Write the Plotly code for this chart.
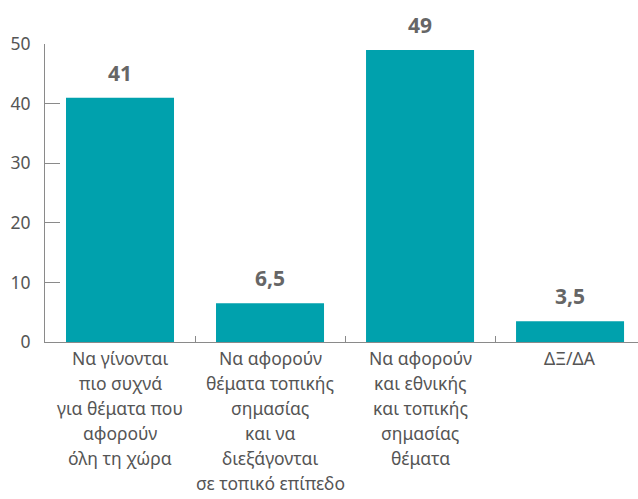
import plotly.graph_objects as go

# Survey answers and their shares (%)
categories = ["Να γίνονται πιο συχνά", "Να αφορούν θέματα τοπικής", "Να αφορούν και εθνικής", "ΔΞ/ΔΑ"]
label_lines = [
    ["Να γίνονται", "πιο συχνά", "για θέματα που", "αφορούν", "όλη τη χώρα"],
    ["Να αφορούν", "θέματα τοπικής", "σημασίας", "και να", "διεξάγονται", "σε τοπικό επίπεδο"],
    ["Να αφορούν", "και εθνικής", "και τοπικής", "σημασίας", "θέματα"],
    ["ΔΞ/ΔΑ"],
]
values = [41, 6.5, 49, 3.5]
y_ticks = [0, 10, 20, 30, 40, 50]

FONT = "'Noto Sans', Lato, sans-serif"
TEAL = "#00a1ad"
GREY = "#555555"

fig = go.Figure(
    go.Bar(
        x=categories,
        y=values,
        marker=dict(color=TEAL, line=dict(width=0)),
        hoverinfo="skip",
    )
)

# value labels above the bars, decimal comma
for cat, v in zip(categories, values):
    txt = f"{v:g}".replace(".", ",")
    fig.add_annotation(
        x=cat, y=v, xref="x", yref="y",
        text=f"<b>{txt}</b>", showarrow=False,
        yanchor="bottom", yshift=9,
        font=dict(family=FONT, size=21, color="#666666"),
    )

# multi-line category labels below the axis
for cat, lines in zip(categories, label_lines):
    for i, line in enumerate(lines):
        fig.add_annotation(
            x=cat, y=0, xref="x", yref="paper",
            text=line, showarrow=False,
            yanchor="middle", yshift=-16 - 25 * i,
            font=dict(family=FONT, size=17.5, color=GREY),
        )

fig.update_layout(
    width=638, height=499,
    margin=dict(l=45, r=0, t=44, b=157),
    paper_bgcolor="white", plot_bgcolor="white",
    bargap=0.28,
    showlegend=False,
    font=dict(family=FONT, color=GREY),
)
fig.update_xaxes(
    range=[-0.5, 3.453],
    showticklabels=False,
    tickson="boundaries",
    ticks="inside", ticklen=6, tickcolor="#8a8a8a", tickwidth=1,
    showline=True, linecolor="#8a8a8a", linewidth=1,
    showgrid=False, zeroline=False,
)
fig.update_yaxes(
    range=[0, 50],
    tickvals=y_ticks,
    ticks="inside", ticklen=15, tickcolor="#8a8a8a", tickwidth=1,
    ticklabelstandoff=10,
    tickfont=dict(family=FONT, size=17.5, color=GREY),
    showline=True, linecolor="#8a8a8a", linewidth=1,
    showgrid=False, zeroline=False,
)

fig.write_html("out.html")
